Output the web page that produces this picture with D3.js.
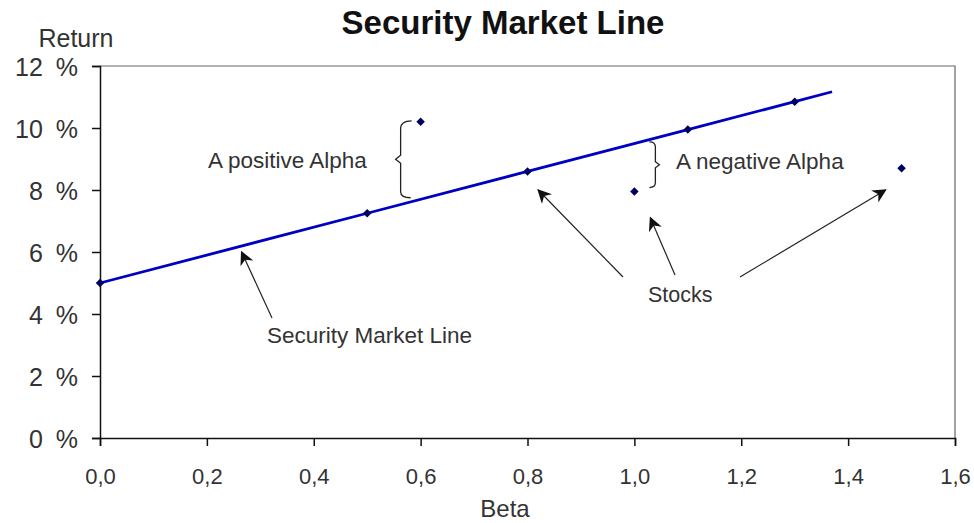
<!DOCTYPE html>
<html>
<head>
<meta charset="utf-8">
<script src="https://cdn.jsdelivr.net/npm/d3@7"></script>
<style>
  body { margin: 0; background: #fff; }
  svg { display: block; font-family: "Liberation Sans", Arial, sans-serif; }
</style>
</head>
<body>
<div id="chart"></div>
<script>
// Security Market Line: risk-free 5 %, slope
const smlBeta = [0, 0.5, 0.8, 1.1, 1.3, 1.37];
const smlReturn = [5.0, 7.25, 8.6, 9.95, 10.85, 11.17];
const smlMarked = [true, true, true, true, true, false];

// stocks off the line
const stockBeta = [0.6, 1.0, 1.5];
const stockReturn = [10.2, 7.95, 8.7];

const xTicks = [0, 0.2, 0.4, 0.6, 0.8, 1.0, 1.2, 1.4, 1.6];
const yTicks = [0, 2, 4, 6, 8, 10, 12];

const width = 974, height = 523;
const margin = { top: 66, right: 19, bottom: 85, left: 100 };

const svg = d3.select("#chart").append("svg")
    .attr("width", width)
    .attr("height", height);

const x = d3.scaleLinear().domain([0, 1.6]).range([margin.left, width - margin.right]);
const y = d3.scaleLinear().domain([0, 12]).range([height - margin.bottom, margin.top]);

// arrow marker
svg.append("defs").append("marker")
    .attr("id", "arrow")
    .attr("viewBox", "0 0 10 10")
    .attr("refX", 9).attr("refY", 5)
    .attr("markerWidth", 16).attr("markerHeight", 14)
    .attr("markerUnits", "userSpaceOnUse")
    .attr("orient", "auto")
    .append("path")
    .attr("d", "M0,0 L10,5 L0,10 L3,5 Z")
    .attr("fill", "#111");

// plot frame (top and right)
svg.append("path")
    .attr("d", `M${x(0)},${y(12)} H${x(1.6)} V${y(0)}`)
    .attr("fill", "none")
    .attr("stroke", "#666")
    .attr("stroke-width", 1.2);

// axes
const xAxis = svg.append("g")
    .attr("transform", `translate(0,${y(0)})`)
    .call(d3.axisBottom(x).tickValues(xTicks).tickSize(8).tickPadding(22)
        .tickFormat(d => d3.format(".1f")(d).replace(".", ",")));
xAxis.selectAll("text")
    .style("font-size", "22px")
    .style("fill", "#333");

const yAxis = svg.append("g")
    .attr("transform", `translate(${x(0)},0)`)
    .call(d3.axisLeft(y).tickValues(yTicks).tickSize(8).tickPadding(14)
        .tickFormat(d => d + " %"));
yAxis.selectAll("text")
    .attr("dy", "0.36em")
    .style("font-size", "25px")
    .style("word-spacing", "6px")
    .style("fill", "#333");

[xAxis, yAxis].forEach(g => {
    g.select(".domain").attr("stroke", "#111").attr("stroke-width", 1.5);
    g.selectAll(".tick line").attr("stroke", "#111").attr("stroke-width", 1.5);
});

// SML line
const smlData = smlBeta.map((b, i) => ({ b, r: smlReturn[i], m: smlMarked[i] }));
svg.append("path")
    .datum(smlData)
    .attr("fill", "none")
    .attr("stroke", "#0000c0")
    .attr("stroke-width", 2.8)
    .attr("d", d3.line().x(d => x(d.b)).y(d => y(d.r)));

const diamond = d3.symbol().type(d3.symbolSquare).size(36);
svg.selectAll(".sml-pt")
    .data(smlData.filter(d => d.m))
    .enter().append("path")
    .attr("class", "sml-pt")
    .attr("transform", d => `translate(${x(d.b)},${y(d.r)}) rotate(45)`)
    .attr("d", diamond)
    .attr("fill", "#000060");

svg.selectAll(".stock")
    .data(stockBeta.map((b, i) => ({ b, r: stockReturn[i] })))
    .enter().append("path")
    .attr("class", "stock")
    .attr("transform", d => `translate(${x(d.b)},${y(d.r)}) rotate(45)`)
    .attr("d", diamond)
    .attr("fill", "#000060");

// braces
const posTop = y(stockReturn[0]) - 1, posBot = y(7.75), bx = x(0.6) - 20;
const posMid = (posTop + posBot) / 2;
svg.append("path")
    .attr("d", `M${bx + 11},${posTop} Q${bx},${posTop} ${bx},${posTop + 8} V${posMid - 4} L${bx - 5},${posMid} L${bx},${posMid + 4} V${posBot - 6} Q${bx},${posBot} ${bx + 10},${posBot}`)
    .attr("fill", "none").attr("stroke", "#222").attr("stroke-width", 1.3);

const negTop = y(9.55), negBot = y(stockReturn[1]) - 4, nx = x(1.0) + 21;
const negMid = (negTop + negBot) / 2;
svg.append("path")
    .attr("d", `M${nx - 6},${negTop} Q${nx},${negTop} ${nx},${negTop + 5} V${negMid - 3} L${nx + 4},${negMid} L${nx},${negMid + 3} V${negBot - 5} Q${nx},${negBot} ${nx - 6},${negBot}`)
    .attr("fill", "none").attr("stroke", "#222").attr("stroke-width", 1.3);

// arrows
const arrows = [
    [272, 318, x(0.265), y(6.0)],
    [623, 277, x(0.82), y(8.0)],
    [675, 275, x(1.03), y(7.1)],
    [740, 277, x(1.47), y(8.0)]
];
svg.selectAll(".arrow")
    .data(arrows)
    .enter().append("line")
    .attr("x1", d => d[0]).attr("y1", d => d[1])
    .attr("x2", d => d[2]).attr("y2", d => d[3])
    .attr("stroke", "#222")
    .attr("stroke-width", 1.2)
    .attr("marker-end", "url(#arrow)");

// texts
const label = (t, tx, ty, size, anchor = "start", weight = "normal") =>
    svg.append("text")
        .attr("x", tx).attr("y", ty)
        .attr("text-anchor", anchor)
        .style("font-size", size + "px")
        .style("font-weight", weight)
        .style("fill", weight === "bold" ? "#111" : "#333")
        .text(t);

label("Security Market Line", 503, 34, 33, "middle", "bold");
label("Return", 76, 47, 25, "middle");
label("Beta", 505, 517, 24, "middle");
label("A positive Alpha", 208, 168, 22.5);
label("A negative Alpha", 676, 169, 22.5);
label("Stocks", 648, 302, 21.5);
label("Security Market Line", 267, 343, 22.5);
</script>
</body>
</html>
